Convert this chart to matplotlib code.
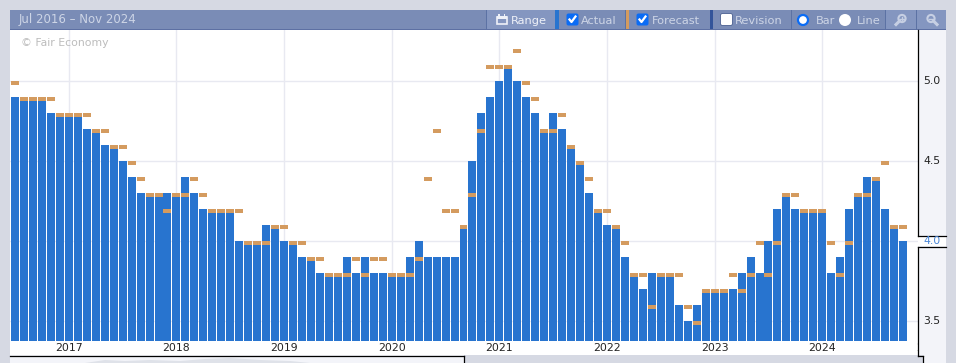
import matplotlib
matplotlib.use("Agg")
import matplotlib.pyplot as plt
from matplotlib.patches import Rectangle, Circle, FancyBboxPatch, Polygon

actual = [4.9,4.9,4.9,4.9,4.8,4.8,4.8,4.8,4.7,4.7,4.6,4.6,4.5,4.4,4.3,4.3,4.3,4.3,4.3,4.4,
          4.3,4.2,4.2,4.2,4.2,4.0,4.0,4.0,4.1,4.1,4.0,4.0,3.9,3.9,3.8,3.8,3.8,3.9,3.8,3.9,
          3.8,3.8,3.8,3.8,3.9,4.0,3.9,3.9,3.9,3.9,4.1,4.5,4.8,4.9,5.0,5.1,5.0,4.9,4.8,4.7,
          4.8,4.7,4.6,4.5,4.3,4.2,4.1,4.1,3.9,3.8,3.7,3.8,3.8,3.8,3.6,3.5,3.6,3.7,3.7,3.7,
          3.7,3.8,3.9,3.8,4.0,4.2,4.3,4.2,4.2,4.2,4.2,3.8,3.9,4.2,4.3,4.4,4.4,4.2,4.1,4.0]
forecast = [5.0,4.9,4.9,4.9,4.9,4.8,4.8,4.8,4.8,4.7,4.7,4.6,4.6,4.5,4.4,4.3,4.3,4.2,4.3,4.3,
            4.4,4.3,4.2,4.2,4.2,4.2,4.0,4.0,4.0,4.1,4.1,4.0,4.0,3.9,3.9,3.8,3.8,3.8,3.9,3.8,
            3.9,3.9,3.8,3.8,3.8,3.9,4.4,4.7,4.2,4.2,4.1,4.3,4.7,5.1,5.1,5.1,5.2,5.0,4.9,4.7,
            4.7,4.8,4.6,4.5,4.4,4.2,4.2,4.1,4.0,3.8,3.8,3.6,3.8,3.8,3.8,3.6,3.5,3.7,3.7,3.7,
            3.8,3.7,3.8,4.0,3.8,4.0,4.3,4.3,4.2,4.2,4.2,4.0,3.8,4.0,4.3,4.3,4.4,4.5,4.1,4.1]
years = ["2017","2018","2019","2020","2021","2022","2023","2024"]
year_pos = [6,18,30,42,54,66,78,90]
y_ticks = [3.5,4.0,4.5,5.0]
W,H = 956,363

plt.rcParams["font.family"]="DejaVu Sans"
fig = plt.figure(figsize=(W/100,H/100),dpi=100,facecolor="#d6d9e3")

def ax_px(x0,y0,x1,y1,**k):
    return fig.add_axes([x0/W,1-y1/H,(x1-x0)/W,(y1-y0)/H],**k)

ax = ax_px(10,30,918,341)
step = 8.97
ax.set_xlim((10-15)/step,(918-15)/step)
ax.set_ylim(5.0-(341-81)/160,5.0+(81-30)/160)
ax.set_xticks(year_pos); ax.set_xticklabels([])
ax.set_yticks(y_ticks); ax.set_yticklabels([])
ax.tick_params(length=0)
ax.grid(True,color="#e8e9f1",lw=1)
ax.set_axisbelow(True)
for s in ax.spines.values(): s.set_visible(False)
xs = list(range(len(actual)))
ax.bar(xs,[a-3.0 for a in actual],bottom=3.0,width=0.89,color="#2874cf",lw=0)
mh = 4/160
ax.bar(xs,[mh]*len(xs),bottom=[f-mh for f in forecast],width=0.89,color="#d49b5f",lw=0)

# overlay in pixel coordinates for the chrome
ov = fig.add_axes([0,0,1,1],facecolor="none")
ov.set_xlim(0,W); ov.set_ylim(H,0); ov.axis("off")
def rect(x,y,w,h,c,**k):
    ov.add_patch(Rectangle((x,y),w,h,fc=c,ec="none",**k))
hdr="#7a8cb6"; light="#8496c0"; txt="#cdd5e6"; sep="#5c72a4"
rect(10,10,936,20,hdr)
rect(10,29,936,1,"#5d70a3")
rect(486,10,70,19,light)
rect(885,10,61,19,light)
for x in [486,625,791,885,916]:
    rect(x,10,0.8,19,sep)
rect(555,10,4,19,"#2874cf")
rect(626,10,3,19,"#d49b5f")
rect(710,10,3,19,"#33549a")
def t(x,y,s,c=txt,size=8.2,**k):
    return ov.text(x,y,s,color=c,fontsize=size,va="center",**k)
t(19,20,"Jul 2016 – Nov 2024",size=8.5)
t(511,20.5,"Range",c="#eef1f8")
t(581,20.5,"Actual")
t(652,20.5,"Forecast")
t(735,20.5,"Revision")
t(816,20.5,"Bar")
t(857,20.5,"Line")
t(21,43,"© Fair Economy",c="#bcbcbc",size=7.8)
def check(x,on):
    ov.add_patch(FancyBboxPatch((x+1.5,14.5),10,10,boxstyle="round,pad=1,rounding_size=2",
                 fc="#0a6cf5" if on else "white",ec="#4a5f90" if not on else "none",lw=0.6))
    if on:
        ov.plot([x+3.5,x+5.5,x+9.5],[19.5,22,16.5],color="white",lw=1.6)
check(566,True); check(636,True); check(720,False)
ov.add_patch(Circle((803,20),5,fc="white",ec="#0a6cf5",lw=1.6))
ov.add_patch(Circle((845,20),6,fc="white",ec="none"))
# range icon
ov.add_patch(Rectangle((497,16.5),10,7,fc="none",ec="#eef1f8",lw=1.2))
rect(497,16,10,3,"#eef1f8"); rect(498.5,14,1.5,2,"#eef1f8"); rect(504,14,1.5,2,"#eef1f8")
# zoom icons
ic="#c6cfe3"
ov.add_patch(Circle((902,18.5),3.6,fc="none",ec=ic,lw=1.5))
ov.plot([899.5,896],[21,24.5],color=ic,lw=2.2)
ov.plot([900.2,903.8],[18.5,18.5],color=ic,lw=1)
ov.plot([902,902],[16.7,20.3],color=ic,lw=1)
ov.add_patch(Circle((931,18.5),3.6,fc="none",ec=ic,lw=1.5))
ov.plot([933.5,937],[21,24.5],color=ic,lw=2.2)
ov.plot([929.2,932.8],[18.5,18.5],color=ic,lw=1)

# x label strip
rect(10,341,908,14,"white")
for p,lab in zip(year_pos,years):
    t(15+step*p,348,lab,c="#222222",size=7.8,ha="center")

# y axis panel
rect(918,30,28,325,"#f3f4f9")
rect(923,355,23,8,"#f3f4f9")
rect(918,236,28,10,"white")
for (x0,y0,x1,y1) in [(918.5,30,918.5,235.5),(918.5,235.5,946,235.5),(918.5,246.5,946,246.5),
                      (918.5,246.5,918.5,355.5),(918.5,355.5,923.5,355.5),(923.5,355.5,923.5,363)]:
    ov.plot([x0,x1],[y0,y1],color="black",lw=0.9,solid_capstyle="projecting")
for v in y_ticks:
    ypx = 81+(5.0-v)*160
    t(932,ypx,f"{v:.1f}",c="#4a86d8" if v==4.0 else "#222222",size=7.8,ha="center")

# label of the next year, cut off by the y axis panel as in the reference
clipped = t(15+step*102,348,"2025",c="#222222",size=7.8,ha="center",clip_on=True)
clipped.set_clip_path(Rectangle((10,341),908,14,transform=ov.transData))

# navigator
rect(10,355,454,8,"#f3f4f9")
ov.add_patch(Polygon([(85,363),(105,360),(125,361),(150,360),(180,361),(205,359),(230,358),
                      (260,360),(290,361),(310,363)],fc="#dfe2e9",ec="none"))
ov.plot([10,464],[355.5,355.5],color="black",lw=0.9)
ov.plot([464.5,464.5],[355.5,363],color="black",lw=0.9)
fig.savefig("out.png",dpi=100,facecolor=fig.get_facecolor())
